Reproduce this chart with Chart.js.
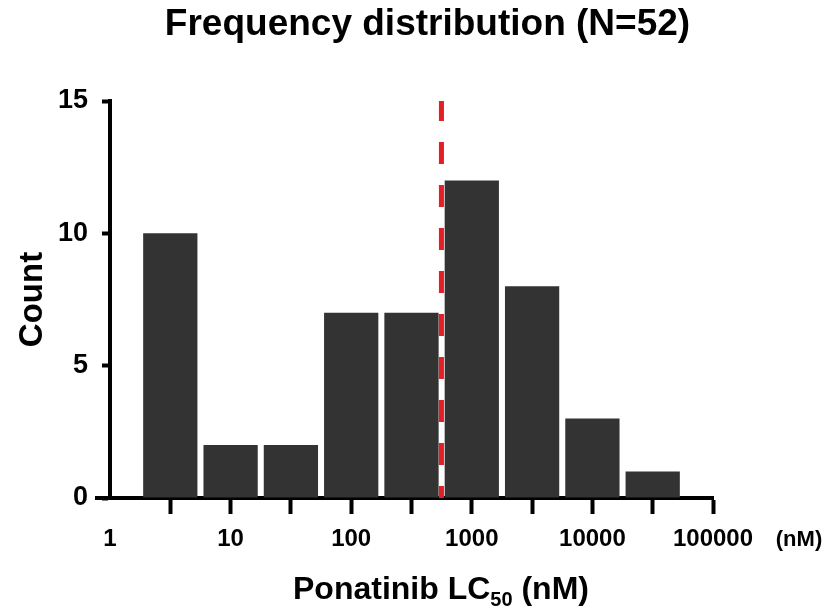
<!DOCTYPE html>
<html>
<head>
<meta charset="utf-8">
<script src="https://cdn.jsdelivr.net/npm/chart.js@4/dist/chart.umd.min.js"></script>
<style>
  html, body { margin: 0; padding: 0; background: #fff; }
  #wrap { width: 827px; height: 615px; position: relative; }
</style>
</head>
<body>
<div id="wrap"><canvas id="histChart"></canvas></div>
<script>
// bin centres (nM, half-decade log bins) and counts
const binCenters = [3.162, 10, 31.62, 100, 316.2, 1000, 3162, 10000, 31623];
const counts = [10, 2, 2, 7, 7, 12, 8, 3, 1];
// axis ticks
const decadeTicks = [1, 10, 100, 1000, 10000, 100000];
const decadeLabels = ["1", "10", "100", "1000", "10000", "100000"];
const halfDecadeTicks = [3.162, 31.62, 316.2, 3162, 31623];
const yTicks = [0, 5, 10, 15];
// median LC50 (red dashed line)
const medianLC50 = 560;

const FONT = "'Liberation Sans', Arial, Helvetica, sans-serif";
const allTicks = decadeTicks.concat(halfDecadeTicks).sort((a, b) => a - b);

const extras = {
  id: "extras",
  afterDatasetsDraw(chart) {
    const { ctx, scales: { x, y } } = chart;
    const px = x.getPixelForValue(medianLC50);
    ctx.save();
    ctx.strokeStyle = "#e31e24";
    ctx.lineWidth = 5;
    ctx.setLineDash([22, 21]);
    ctx.lineDashOffset = 10;
    ctx.beginPath();
    ctx.moveTo(px, y.getPixelForValue(0));
    ctx.lineTo(px, y.getPixelForValue(15));
    ctx.stroke();
    ctx.restore();
  },
  afterDraw(chart) {
    const { ctx, scales: { x, y } } = chart;
    const y0 = y.getPixelForValue(0);
    ctx.save();
    // x axis runs a little past the y axis
    ctx.strokeStyle = "#000";
    ctx.lineWidth = 4;
    ctx.beginPath();
    ctx.moveTo(x.left - 15, y0);
    ctx.lineTo(x.left, y0);
    ctx.stroke();

    ctx.fillStyle = "#000";
    ctx.textBaseline = "middle";
    ctx.textAlign = "center";
    // chart title
    ctx.font = "bold 37px " + FONT;
    ctx.fillText("Frequency distribution (N=52)", chart.width / 2 + 14, 25);

    ctx.font = "bold 22px " + FONT;
    ctx.fillText("(nM)", x.right + 86, y0 + 42);

    // axis title with subscript
    const big = "bold 32px " + FONT, small = "bold 20px " + FONT;
    ctx.textBaseline = "alphabetic";
    ctx.textAlign = "left";
    ctx.font = big;
    const w1 = ctx.measureText("Ponatinib LC").width;
    const w3 = ctx.measureText(" (nM)").width;
    ctx.font = small;
    const w2 = ctx.measureText("50").width;
    const base = y0 + 101;
    let tx = 441 - (w1 + w2 + w3) / 2;
    ctx.font = big;
    ctx.fillText("Ponatinib LC", tx, base);
    tx += w1;
    ctx.font = small;
    ctx.fillText("50", tx, base + 7);
    tx += w2;
    ctx.font = big;
    ctx.fillText(" (nM)", tx, base);
    ctx.restore();
  }
};

new Chart(document.getElementById("histChart"), {
  type: "bar",
  data: {
    datasets: [{
      data: binCenters.map((c, i) => ({ x: c, y: counts[i] })),
      backgroundColor: "#333333",
      borderWidth: 0,
      categoryPercentage: 1,
      barPercentage: 0.9
    }]
  },
  options: {
    responsive: true,
    maintainAspectRatio: false,
    animation: false,
    layout: { padding: { left: 0, right: 114, top: 101, bottom: 0 } },
    plugins: {
      legend: { display: false },
      tooltip: { enabled: false },
      title: { display: false }
    },
    scales: {
      x: {
        type: "logarithmic",
        min: 1,
        max: 100000,
        offset: false,
        z: 1,
        afterFit: s => { s.height = 117; },
        afterBuildTicks: s => { s.ticks = allTicks.map(v => ({ value: v })); },
        grid: {
          display: true,
          offset: false,
          drawOnChartArea: false,
          drawTicks: true,
          tickLength: 16,
          tickWidth: 4,
          tickColor: c => (c.tick && c.tick.value === 1) ? "rgba(0,0,0,0)" : "#000"
        },
        border: { display: true, color: "#000", width: 4 },
        ticks: {
          autoSkip: false,
          maxRotation: 0,
          padding: 11,
          color: "#000",
          font: { family: FONT, size: 24, weight: "bold" },
          callback: v => {
            const i = decadeTicks.indexOf(v);
            return i >= 0 ? decadeLabels[i] : "";
          }
        }
      },
      y: {
        min: 0,
        max: 15,
        z: 1,
        afterFit: s => { s.width = 110; },
        afterBuildTicks: s => { s.ticks = yTicks.map(v => ({ value: v })); },
        grid: {
          display: true,
          drawOnChartArea: false,
          drawTicks: true,
          tickLength: 8,
          tickWidth: 4,
          tickColor: "#000"
        },
        border: { display: true, color: "#000", width: 4 },
        ticks: {
          padding: 14,
          color: "#000",
          font: { family: FONT, size: 27, weight: "bold" }
        },
        title: {
          display: true,
          text: "Count",
          color: "#000",
          font: { family: FONT, size: 33, weight: "bold" },
          padding: { top: 13, bottom: 0 }
        }
      }
    }
  },
  plugins: [extras]
});
</script>
</body>
</html>
